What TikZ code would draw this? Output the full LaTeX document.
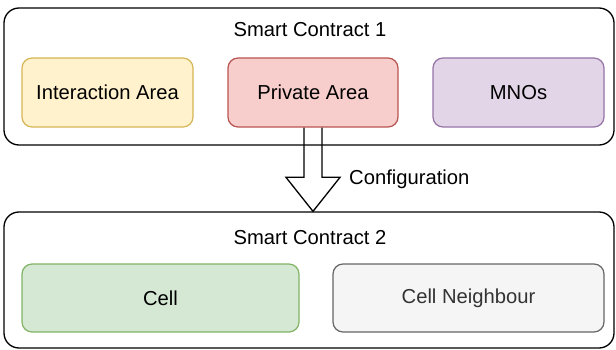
\documentclass[tikz,border=0pt]{standalone}
\usepackage{fontspec}
\setmainfont{Liberation Sans}
\usetikzlibrary{calc}
\definecolor{yfill}{HTML}{FFF2CC}\definecolor{ydraw}{HTML}{D6B656}
\definecolor{rfill}{HTML}{F8CECC}\definecolor{rdraw}{HTML}{B85450}
\definecolor{pfill}{HTML}{E1D5E7}\definecolor{pdraw}{HTML}{9673A6}
\definecolor{gfill}{HTML}{D5E8D4}\definecolor{gdraw}{HTML}{82B366}
\definecolor{nfill}{HTML}{F5F5F5}\definecolor{ndraw}{HTML}{666666}\definecolor{ntext}{HTML}{333333}
\begin{document}
\begin{tikzpicture}[x=1pt,y=-1pt,
  every node/.style={font=\fontsize{20.2}{23}\selectfont, text=black},
  container/.style={draw=black, line width=1.3pt, rounded corners=15pt, fill=white, inner sep=0pt},
  innerbox/.style={rounded corners=10pt, line width=1.2pt, minimum height=69pt, inner sep=0pt},
  blockarrow/.style={draw=black, line width=1.3pt, line join=miter}]
\useasboundingbox (0,0) rectangle (616,350);
\node[container, minimum width=610pt, minimum height=137pt] (sc1) at (309,76.5) {};
\node (t1) at (310,30) {Smart Contract 1};
\node[container, minimum width=610pt, minimum height=136pt] (sc2) at (309,280) {};
\node (t2) at (310,238) {Smart Contract 2};
\node[innerbox, fill=yfill, draw=ydraw, minimum width=171pt] (ia) at (107.5,92.5) {Interaction Area};
\node[innerbox, fill=rfill, draw=rdraw, minimum width=170pt] (pa) at (313,92.5) {Private Area};
\node[innerbox, fill=pfill, draw=pdraw, minimum width=171pt] (mno) at (518.5,92.5) {MNOs};
\node[innerbox, fill=gfill, draw=gdraw, minimum width=277pt, minimum height=68pt] (cell) at (160.5,298) {Cell};
\node[innerbox, fill=nfill, draw=ndraw, minimum width=271pt, minimum height=68pt, text=ntext] (cn) at (468.5,298) {Cell Neighbour};
\coordinate (tip) at (pa.south |- sc2.north);
\draw[blockarrow]
  ($(pa.south)+(-9,0)$) -- ($(tip)+(-9,-34)$) -- ($(tip)+(-27,-34)$) -- (tip)
  -- ($(tip)+(27,-34)$) -- ($(tip)+(9,-34)$) -- ($(pa.south)+(9,0)$);
\node[anchor=west, inner sep=0pt] (cfg) at (349,179) {Configuration};
\end{tikzpicture}
\end{document}
